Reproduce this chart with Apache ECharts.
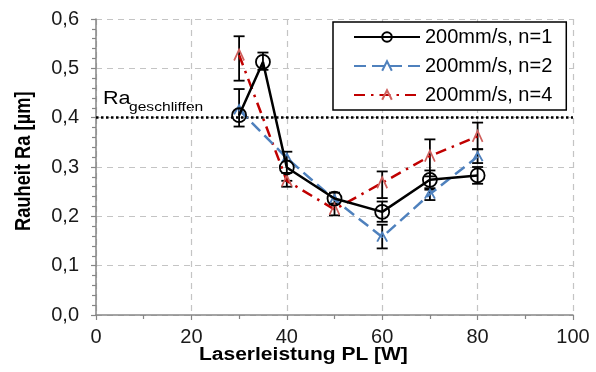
<!DOCTYPE html>
<html>
<head>
<meta charset="utf-8">
<script src="https://cdn.jsdelivr.net/npm/echarts@6/dist/echarts.min.js"></script>
<style>html,body{margin:0;padding:0;background:#fff;}#c{width:596px;height:372px;}</style>
</head>
<body>
<div id="c"></div>
<script>
// ---- data ----
const seriesNames = ['200mm/s, n=1', '200mm/s, n=2', '200mm/s, n=4'];
const x1 = [30, 35, 40, 50, 60, 70, 80];
const y1 = [0.405, 0.513, 0.299, 0.236, 0.209, 0.274, 0.283];
const err1Low  = [0.382, 0.497, 0.272, 0.225, 0.189, 0.254, 0.266];
const err1High = [0.458, 0.532, 0.331, 0.248, 0.230, 0.293, 0.300];

const x2 = [30, 40, 50, 60, 70, 80];
const y2 = [0.416, 0.318, 0.234, 0.158, 0.245, 0.321];
const err2Low  = [null, null, null, 0.135, 0.233, 0.308];
const err2High = [null, null, null, 0.183, 0.257, 0.336];

const x4 = [30, 40, 50, 60, 70, 80];
const y4 = [0.527, 0.272, 0.214, 0.268, 0.322, 0.362];
const err4Low  = [0.475, 0.260, 0.202, 0.237, 0.281, 0.336];
const err4High = [0.565, 0.288, 0.226, 0.291, 0.356, 0.390];

const refLevel = 0.4;
const yTicks = ['0,0', '0,1', '0,2', '0,3', '0,4', '0,5', '0,6'];

function pts(xs, ys) { return xs.map((x, i) => [x, ys[i]]); }
function errs(xs, lo, hi) {
  const out = [];
  xs.forEach((x, i) => { if (lo[i] != null) out.push([x, lo[i], hi[i]]); });
  return out;
}

function renderErr(params, api) {
  const x = api.value(0), lo = api.value(1), hi = api.value(2);
  const p1 = api.coord([x, lo]), p2 = api.coord([x, hi]);
  const w = 5.5;
  const st = { stroke: '#000', lineWidth: 1.8 };
  return {
    type: 'group',
    children: [
      { type: 'line', shape: { x1: p1[0], y1: p1[1], x2: p2[0], y2: p2[1] }, style: st },
      { type: 'line', shape: { x1: p1[0] - w, y1: p1[1], x2: p1[0] + w, y2: p1[1] }, style: st },
      { type: 'line', shape: { x1: p2[0] - w, y1: p2[1], x2: p2[0] + w, y2: p2[1] }, style: st }
    ]
  };
}

const chart = echarts.init(document.getElementById('c'), null, { renderer: 'canvas' });
const font = 'Arial, "Liberation Sans", sans-serif';
const caret = 'path://M0,10 L5,0 L10,10';

chart.setOption({
  backgroundColor: '#fff',
  animation: false,
  textStyle: { fontFamily: font },
  grid: { left: 96, right: 23, top: 19, bottom: 57, containLabel: false },
  xAxis: {
    type: 'value', min: 0, max: 100, interval: 20,
    axisLine: { lineStyle: { color: '#868686', width: 1.5 } },
    axisTick: { show: true, length: 5, lineStyle: { color: '#868686', width: 1.2 } },
    minorTick: { show: true, splitNumber: 2, length: 4, lineStyle: { color: '#868686', width: 1.2 } },
    axisLabel: { color: '#1a1a1a', fontSize: 20, margin: 12, fontFamily: font },
    splitLine: { show: true, lineStyle: { color: '#c4c4c4', type: [6, 5], width: 1.2 } }
  },
  yAxis: {
    type: 'value', min: 0, max: 0.6, interval: 0.1,
    axisLine: { show: true, lineStyle: { color: '#868686', width: 1.5 } },
    axisTick: { show: true, length: 5, lineStyle: { color: '#868686', width: 1.2 } },
    minorTick: { show: true, splitNumber: 5, length: 4, lineStyle: { color: '#868686', width: 1.2 } },
    axisLabel: {
      color: '#1a1a1a', fontSize: 20, margin: 17, fontFamily: font,
      formatter: function (v) { return yTicks[Math.round(v * 10)]; }
    },
    splitLine: { show: true, lineStyle: { color: '#c4c4c4', type: [6, 5], width: 1.2 } }
  },
  legend: {
    data: seriesNames,
    orient: 'vertical',
    left: 333, top: 22,
    backgroundColor: '#fff',
    borderColor: '#000', borderWidth: 1.5, borderRadius: 0,
    padding: [5, 14, 5, 20],
    itemWidth: 66, itemHeight: 12, itemGap: 9,
    textStyle: { fontSize: 20, color: '#000', fontFamily: font, lineHeight: 20 }
  },
  series: [
    {
      name: 'err4', type: 'custom', renderItem: renderErr, data: errs(x4, err4Low, err4High),
      encode: { x: 0, y: [1, 2] }, z: 3, silent: true
    },
    {
      name: 'err2', type: 'custom', renderItem: renderErr, data: errs(x2, err2Low, err2High),
      encode: { x: 0, y: [1, 2] }, z: 3, silent: true
    },
    {
      name: 'err1', type: 'custom', renderItem: renderErr, data: errs(x1, err1Low, err1High),
      encode: { x: 0, y: [1, 2] }, z: 3, silent: true
    },
    {
      name: seriesNames[2], type: 'line', data: pts(x4, y4), z: 4,
      symbol: caret, symbolSize: [10, 11],
      lineStyle: { color: '#c00000', width: 2.5, type: [11, 6, 2.5, 6] },
      itemStyle: { color: 'rgba(0,0,0,0)', borderColor: '#d0605d', borderWidth: 1.8 }
    },
    {
      name: seriesNames[1], type: 'line', data: pts(x2, y2), z: 5,
      symbol: caret, symbolSize: [10, 9],
      lineStyle: { color: '#4f81bd', width: 2.5, type: [12, 6] },
      itemStyle: { color: 'rgba(0,0,0,0)', borderColor: '#4f81bd', borderWidth: 1.8 }
    },
    {
      name: seriesNames[0], type: 'line', data: pts(x1, y1), z: 6,
      symbol: 'circle', symbolSize: 14,
      lineStyle: { color: '#000', width: 2.5 },
      itemStyle: { color: 'rgba(0,0,0,0)', borderColor: '#000', borderWidth: 1.8 },
      markLine: {
        silent: true, symbol: 'none', label: { show: false },
        lineStyle: { color: '#000', type: [2.5, 2.5], width: 2.5 },
        data: [{ yAxis: refLevel }]
      }
    }
  ],
  graphic: [
    { type: 'text', x: 103, y: 90, scaleX: 1.2, style: { text: 'Ra', font: '18px ' + font, fill: '#000' } },
    { type: 'text', x: 129, y: 101, scaleX: 1.2, style: { text: 'geschliffen', font: '13px ' + font, fill: '#000' } },
    { type: 'text', x: 199, y: 346, scaleX: 1.2, style: { text: 'Laserleistung PL [W]', font: 'bold 17.5px ' + font, fill: '#000' } },
    {
      type: 'text', x: 13, y: 231, rotation: Math.PI / 2, scaleY: 1.2,
      style: { text: 'Rauheit Ra [µm]', font: 'bold 18.3px ' + font, fill: '#000' }
    }
  ]
});
</script>
</body>
</html>
